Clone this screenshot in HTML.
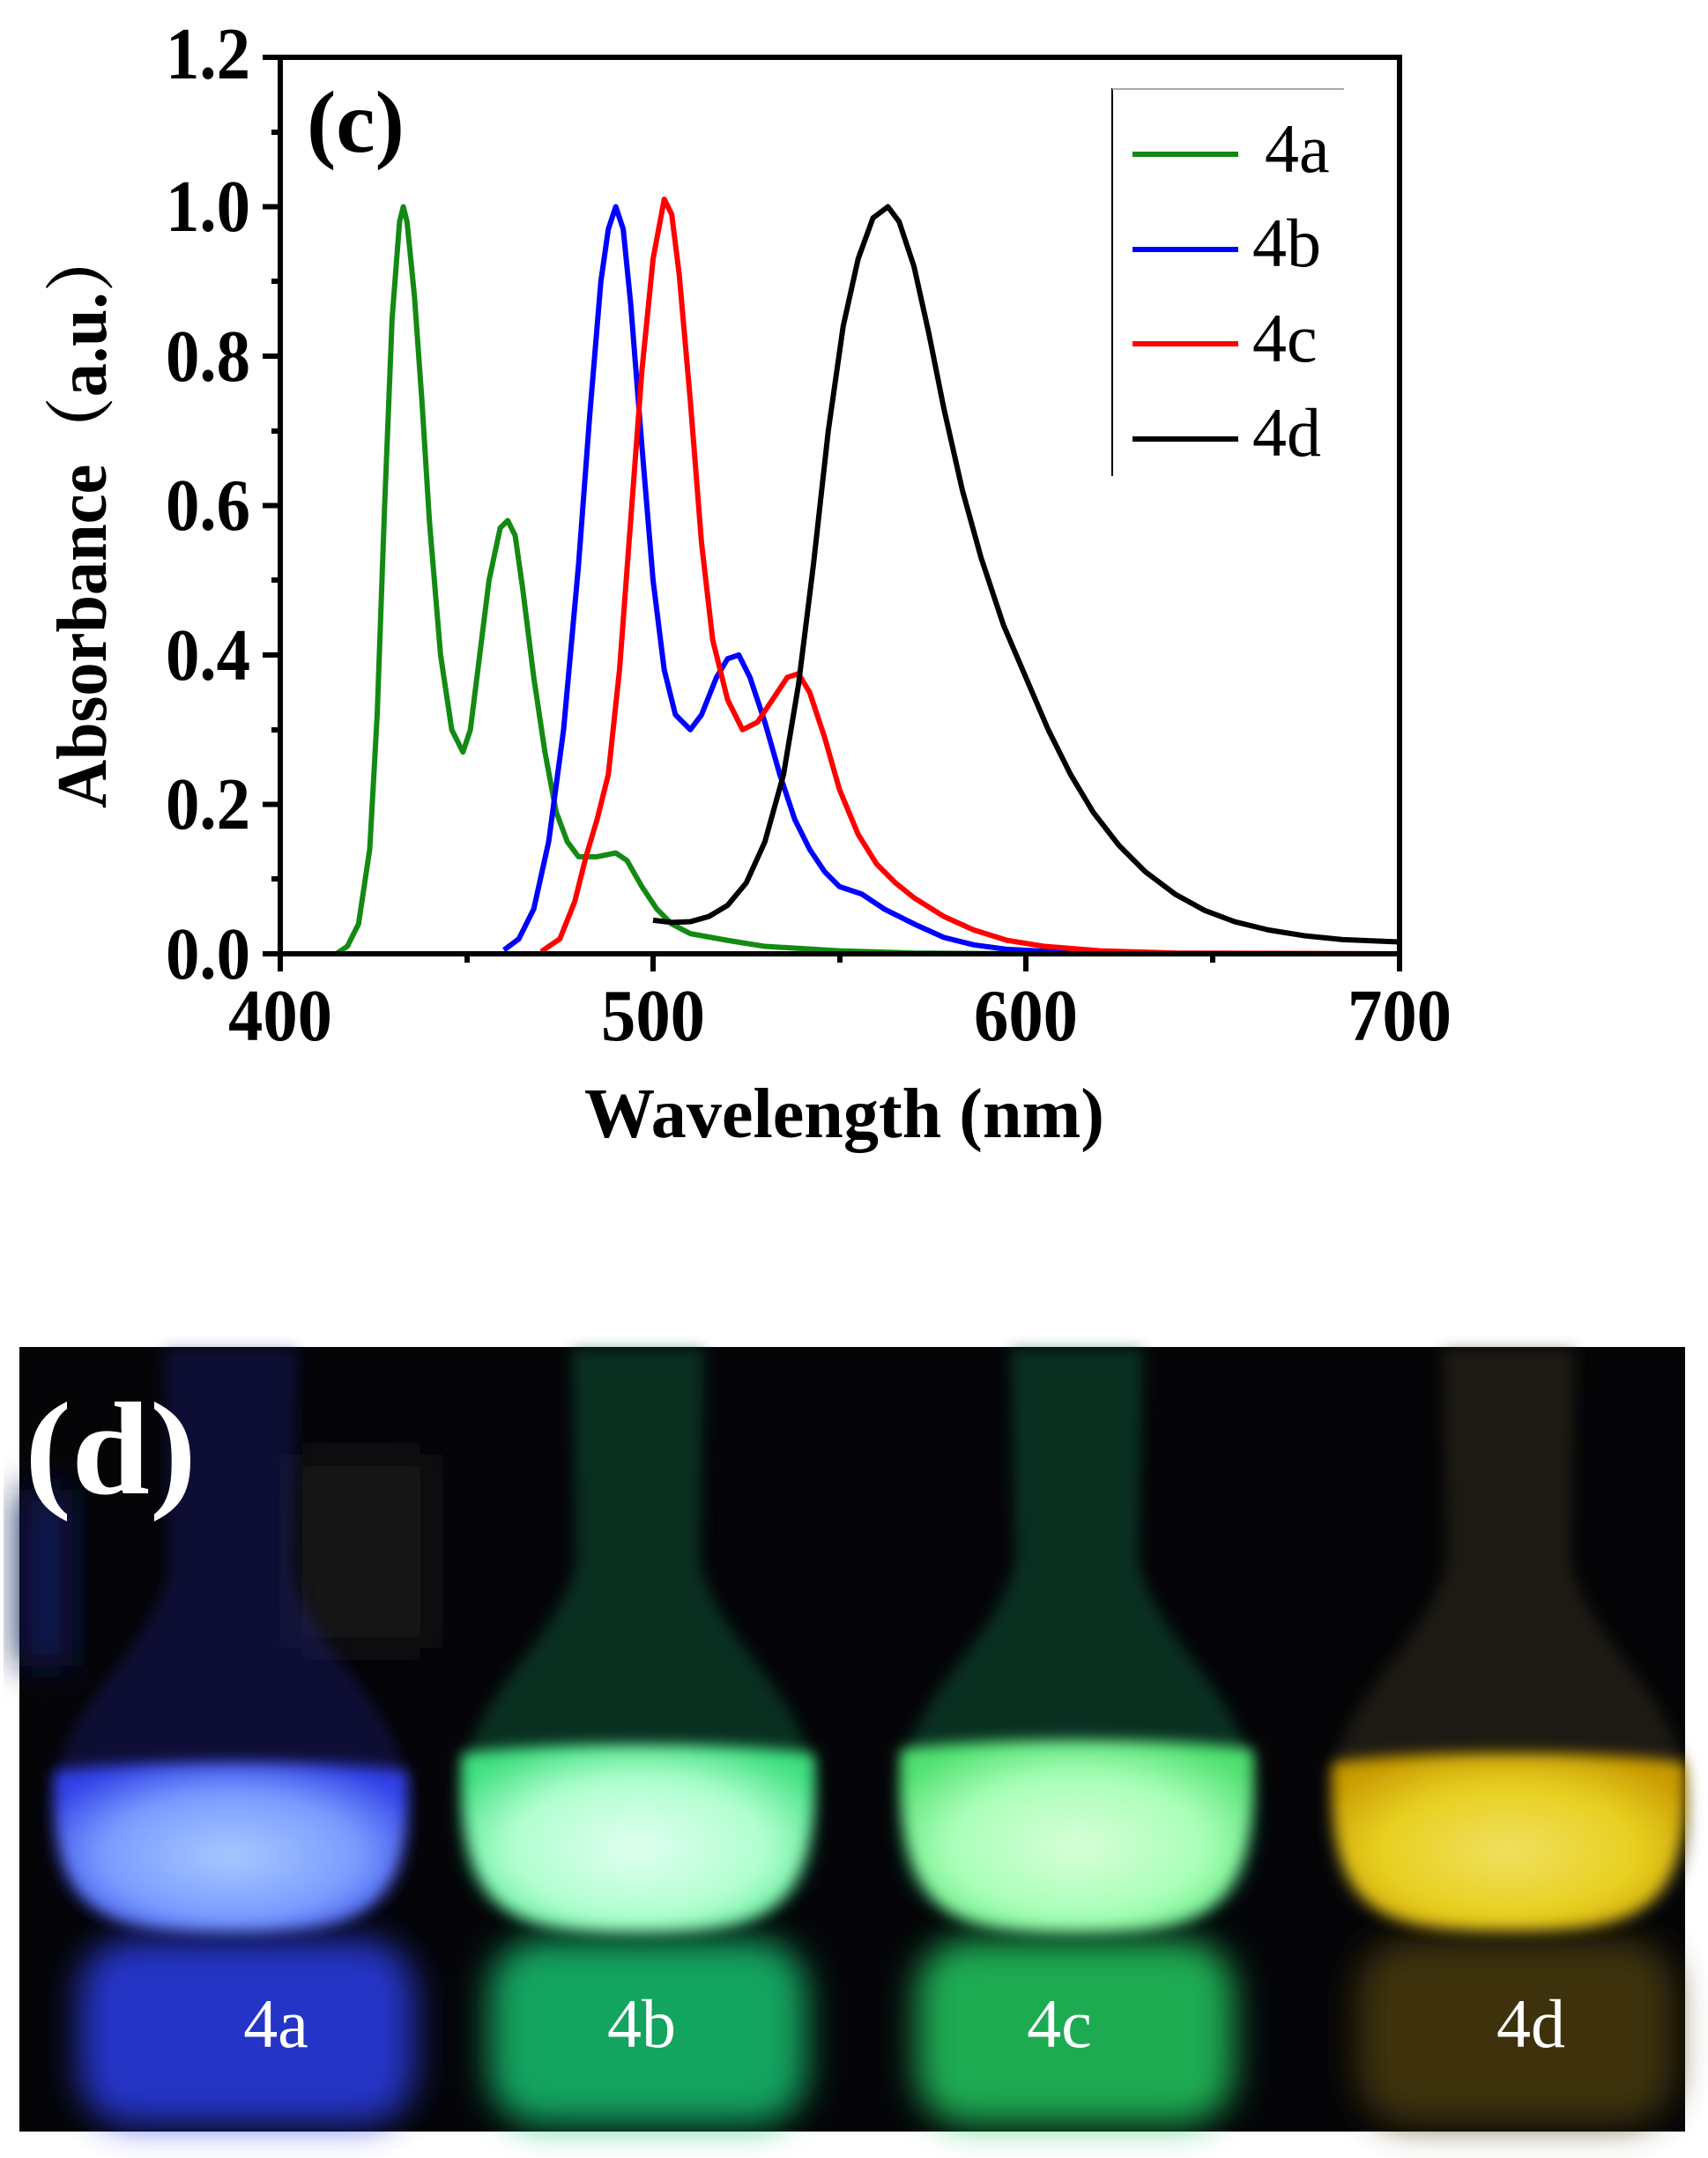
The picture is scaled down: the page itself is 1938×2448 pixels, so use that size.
<!DOCTYPE html>
<html><head><meta charset="utf-8"><style>
html,body{margin:0;padding:0;background:#fff;}
svg{display:block;}
</style></head><body>
<svg width="1938" height="2448" viewBox="0 0 1938 2448" xmlns="http://www.w3.org/2000/svg">
<defs>
<filter id="b8" x="-20%" y="-20%" width="140%" height="140%"><feGaussianBlur stdDeviation="8"/></filter>
<filter id="b20" x="-30%" y="-30%" width="160%" height="160%"><feGaussianBlur stdDeviation="20"/></filter>
<radialGradient id="gA" cx="0.5" cy="0.55" r="0.6"><stop offset="0" stop-color="#a8c8ff"/><stop offset="0.6" stop-color="#7a9cff"/><stop offset="1" stop-color="#3040e8"/></radialGradient>
<radialGradient id="gB" cx="0.5" cy="0.55" r="0.6"><stop offset="0" stop-color="#e0fff0"/><stop offset="0.6" stop-color="#b0ffd0"/><stop offset="1" stop-color="#40e080"/></radialGradient>
<radialGradient id="gC" cx="0.5" cy="0.55" r="0.6"><stop offset="0" stop-color="#d8ffd8"/><stop offset="0.6" stop-color="#a8ffb8"/><stop offset="1" stop-color="#50e070"/></radialGradient>
<radialGradient id="gD" cx="0.5" cy="0.55" r="0.6"><stop offset="0" stop-color="#f0e060"/><stop offset="0.6" stop-color="#e8d020"/><stop offset="1" stop-color="#c89a00"/></radialGradient>
</defs>

<!-- ===== Chart (c) ===== -->
<g font-family="Liberation Serif, serif" fill="#000">
<g fill="none" stroke-width="6" stroke-linejoin="round" transform="translate(318,1082) scale(4.23,-847.5) translate(-400,0)">
<polyline vector-effect="non-scaling-stroke" stroke="#138a13" points="400,0 415,0 418,0.01 421,0.04 424,0.14 426,0.32 428,0.6 430,0.85 432,0.98 433,1.0 434,0.98 436,0.88 438,0.74 440,0.58 443,0.4 446,0.3 449,0.27 451,0.3 453,0.38 456,0.5 459,0.57 461,0.58 463,0.56 465,0.49 468,0.37 471,0.27 474,0.19 477,0.15 480,0.13 485,0.13 490,0.135 493,0.125 497,0.09 501,0.06 505,0.04 510,0.027 520,0.018 530,0.01 550,0.004 570,0.001 600,0 700,0"/>
<polyline vector-effect="non-scaling-stroke" stroke="#0000ff" points="460,0.005 464,0.02 468,0.06 472,0.15 476,0.3 480,0.52 483,0.72 486,0.9 488,0.97 490,1.0 492,0.97 494,0.87 497,0.68 500,0.5 503,0.38 506,0.32 510,0.3 513,0.32 517,0.37 520,0.395 523,0.4 526,0.37 530,0.31 534,0.24 538,0.18 542,0.14 546,0.11 550,0.09 556,0.08 562,0.06 570,0.04 578,0.022 586,0.012 595,0.006 610,0.002 625,0"/>
<polyline vector-effect="non-scaling-stroke" stroke="#ff0000" points="470,0.003 475,0.02 479,0.07 482,0.13 485,0.18 488,0.24 491,0.38 494,0.58 497,0.78 500,0.93 503,1.01 505,0.99 507,0.91 510,0.74 513,0.55 516,0.42 520,0.34 524,0.3 528,0.31 532,0.34 536,0.37 539,0.375 542,0.35 546,0.29 550,0.22 555,0.16 560,0.12 565,0.095 570,0.075 578,0.05 586,0.032 595,0.018 605,0.01 620,0.004 640,0.001 700,0"/>
<polyline vector-effect="non-scaling-stroke" stroke="#000" points="500,0.045 505,0.042 510,0.043 515,0.05 520,0.065 525,0.095 530,0.15 535,0.24 539,0.36 543,0.52 547,0.7 551,0.84 555,0.93 559,0.985 563,1.0 566,0.98 570,0.92 574,0.83 578,0.73 583,0.62 588,0.53 594,0.44 600,0.37 606,0.3 612,0.24 618,0.19 625,0.145 632,0.11 640,0.08 648,0.058 656,0.043 665,0.032 675,0.024 685,0.019 700,0.016"/>
</g>
<rect x="318" y="65" width="1270" height="1017" fill="none" stroke="#000" stroke-width="6"/>
<g stroke="#000" stroke-width="6">
<line x1="298" y1="1082" x2="318" y2="1082"/><line x1="298" y1="912.5" x2="318" y2="912.5"/><line x1="298" y1="743" x2="318" y2="743"/><line x1="298" y1="573.5" x2="318" y2="573.5"/><line x1="298" y1="404" x2="318" y2="404"/><line x1="298" y1="234.5" x2="318" y2="234.5"/><line x1="298" y1="65" x2="318" y2="65"/>
<line x1="308" y1="997" x2="318" y2="997"/><line x1="308" y1="828" x2="318" y2="828"/><line x1="308" y1="658" x2="318" y2="658"/><line x1="308" y1="489" x2="318" y2="489"/><line x1="308" y1="319" x2="318" y2="319"/><line x1="308" y1="150" x2="318" y2="150"/>
<line x1="318" y1="1082" x2="318" y2="1102"/><line x1="741" y1="1082" x2="741" y2="1102"/><line x1="1164" y1="1082" x2="1164" y2="1102"/><line x1="1588" y1="1082" x2="1588" y2="1102"/>
<line x1="530" y1="1082" x2="530" y2="1092"/><line x1="953" y1="1082" x2="953" y2="1092"/><line x1="1376" y1="1082" x2="1376" y2="1092"/>
</g>
<g font-size="84" font-weight="bold" text-anchor="end">
<text x="284" y="1110" textLength="96" lengthAdjust="spacingAndGlyphs">0.0</text>
<text x="284" y="940" textLength="96" lengthAdjust="spacingAndGlyphs">0.2</text>
<text x="284" y="771" textLength="96" lengthAdjust="spacingAndGlyphs">0.4</text>
<text x="284" y="601" textLength="96" lengthAdjust="spacingAndGlyphs">0.6</text>
<text x="284" y="432" textLength="96" lengthAdjust="spacingAndGlyphs">0.8</text>
<text x="284" y="262" textLength="96" lengthAdjust="spacingAndGlyphs">1.0</text>
<text x="284" y="89" textLength="96" lengthAdjust="spacingAndGlyphs">1.2</text>
</g>
<g font-size="84" font-weight="bold" text-anchor="middle">
<text x="318" y="1180" textLength="118" lengthAdjust="spacingAndGlyphs">400</text>
<text x="741" y="1180" textLength="118" lengthAdjust="spacingAndGlyphs">500</text>
<text x="1164" y="1180" textLength="118" lengthAdjust="spacingAndGlyphs">600</text>
<text x="1588" y="1180" textLength="118" lengthAdjust="spacingAndGlyphs">700</text>
</g>
<text x="958" y="1290" font-size="80" font-weight="bold" text-anchor="middle" textLength="590" lengthAdjust="spacingAndGlyphs">Wavelength (nm)</text>
<text transform="translate(120,586) rotate(-90)" font-size="80" font-weight="bold" text-anchor="middle" textLength="662" lengthAdjust="spacingAndGlyphs" font-family="Liberation Serif, Noto Serif CJK SC, serif">Absorbance（a.u.）</text>
<text x="348" y="172" font-size="100" font-weight="bold">(c)</text>
<line x1="1262" y1="100" x2="1262" y2="540" stroke="#000" stroke-width="2"/>
<line x1="1262" y1="101" x2="1525" y2="101" stroke="#aaa" stroke-width="2"/>
<g stroke-width="6">
<line x1="1285" y1="175" x2="1405" y2="175" stroke="#138a13"/>
<line x1="1285" y1="283" x2="1405" y2="283" stroke="#0000ff"/>
<line x1="1285" y1="390" x2="1405" y2="390" stroke="#ff0000"/>
<line x1="1285" y1="498" x2="1405" y2="498" stroke="#000"/>
</g>
<g font-size="78">
<text x="1435" y="195">4a</text>
<text x="1421" y="302">4b</text>
<text x="1421" y="410">4c</text>
<text x="1421" y="517">4d</text>
</g>
</g>

<!-- ===== Photo (d) ===== -->
<rect x="22" y="1528" width="1890" height="890" fill="#050508"/>
<rect x="330" y="1650" width="160" height="220" fill="#121216" filter="url(#b20)"/>
<rect x="22" y="1690" width="60" height="200" fill="#101850" filter="url(#b20)"/>
<g filter="url(#b20)" opacity="0.85">
<rect x="90" y="2200" width="380" height="210" rx="60" fill="#2a3ee8"/>
<rect x="555" y="2200" width="360" height="210" rx="60" fill="#18c070"/>
<rect x="1040" y="2200" width="360" height="210" rx="60" fill="#20c860"/>
<rect x="1540" y="2200" width="360" height="210" rx="60" fill="#4a3a08"/>
</g>
<g>
<g transform="translate(262,0)">
<path d="M-75,1530 L-70,1780 C-90,1880 -200,1930 -205,2060 C-210,2170 -150,2195 0,2195 C150,2195 210,2170 205,2060 C200,1930 90,1880 70,1780 L75,1530 Z" fill="#1b1f7a" opacity="0.4" filter="url(#b8)"/>
<path d="M-200,2010 C-205,2170 -150,2192 0,2192 C150,2192 205,2170 200,2010 C120,1995 -120,1995 -200,2010 Z" fill="url(#gA)" filter="url(#b8)"/>
</g>
<g transform="translate(724,0)">
<path d="M-75,1530 L-70,1770 C-90,1870 -200,1920 -205,2050 C-210,2170 -150,2195 0,2195 C150,2195 210,2170 205,2050 C200,1920 90,1870 70,1770 L75,1530 Z" fill="#0c5a3a" opacity="0.5" filter="url(#b8)"/>
<path d="M-200,1990 C-205,2170 -150,2192 0,2192 C150,2192 205,2170 200,1990 C120,1975 -120,1975 -200,1990 Z" fill="url(#gB)" filter="url(#b8)"/>
</g>
<g transform="translate(1222,0)">
<path d="M-75,1530 L-70,1770 C-90,1870 -200,1920 -205,2050 C-210,2170 -150,2195 0,2195 C150,2195 210,2170 205,2050 C200,1920 90,1870 70,1770 L75,1530 Z" fill="#0c5a3a" opacity="0.5" filter="url(#b8)"/>
<path d="M-200,1985 C-205,2170 -150,2192 0,2192 C150,2192 205,2170 200,1985 C120,1970 -120,1970 -200,1985 Z" fill="url(#gC)" filter="url(#b8)"/>
</g>
<g transform="translate(1712,0)">
<path d="M-75,1530 L-70,1770 C-90,1870 -200,1920 -205,2050 C-210,2170 -150,2195 0,2195 C150,2195 210,2170 205,2050 C200,1920 90,1870 70,1770 L75,1530 Z" fill="#3a3420" opacity="0.45" filter="url(#b8)"/>
<path d="M-200,2000 C-205,2170 -150,2190 0,2190 C150,2190 205,2170 200,2000 C120,1985 -120,1985 -200,2000 Z" fill="url(#gD)" filter="url(#b8)"/>
</g>
</g>
<g font-family="Liberation Serif, serif" fill="#fff">
<text x="28" y="1694" font-size="150" font-weight="bold" textLength="195" lengthAdjust="spacingAndGlyphs">(d)</text>
<g font-size="78" text-anchor="middle">
<text x="313" y="2322">4a</text>
<text x="728" y="2322">4b</text>
<text x="1202" y="2322">4c</text>
<text x="1737" y="2322">4d</text>
</g>
</g>
</svg>
</body></html>
